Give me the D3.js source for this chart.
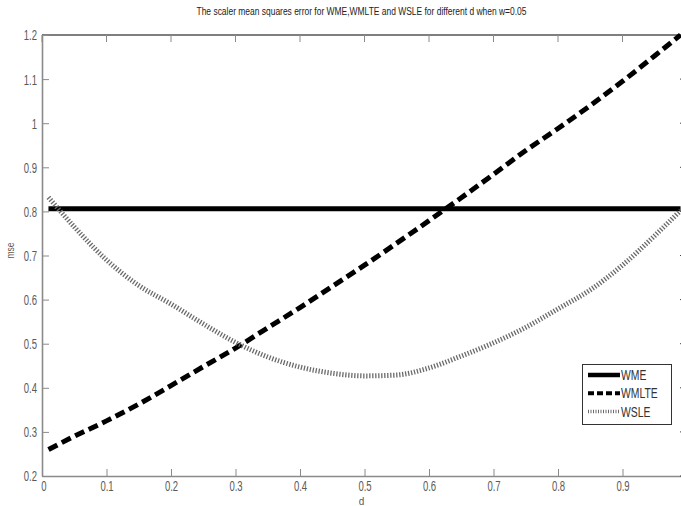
<!DOCTYPE html>
<html><head><meta charset="utf-8">
<script src="https://cdn.jsdelivr.net/npm/d3@7"></script>
<style>
body{margin:0;background:#fff;overflow:hidden}
text{font-family:"Liberation Sans",Arial,sans-serif}
</style>
</head><body><svg id="c" width="681" height="506"></svg>
<script>
const titleText = "The scaler mean squares error for WME,WMLTE and WSLE for different d when w=0.05";
const xLabel = "d";
const yLabel = "mse";
const dValues = [0.01,0.05,0.1,0.15,0.2,0.25,0.3,0.35,0.4,0.45,0.5,0.55,0.6,0.65,0.7,0.75,0.8,0.85,0.9,0.95,0.99];
const wme   = [0.806,0.806,0.806,0.806,0.806,0.806,0.806,0.806,0.806,0.806,0.806,0.806,0.806,0.806,0.806,0.806,0.806,0.806,0.806,0.806,0.806];
const wmlte = [0.26,0.29,0.325,0.363,0.405,0.448,0.49,0.536,0.582,0.63,0.678,0.728,0.779,0.831,0.884,0.938,0.988,1.04,1.095,1.153,1.2];
const wsle  = [0.832,0.765,0.69,0.632,0.59,0.545,0.503,0.47,0.447,0.433,0.427,0.429,0.445,0.472,0.502,0.537,0.579,0.622,0.678,0.745,0.802];
const seriesNames = ["WME","WMLTE","WSLE"];
const xTicks = [0,0.1,0.2,0.3,0.4,0.5,0.6,0.7,0.8,0.9];
const xTickLabels = ["0","0.1","0.2","0.3","0.4","0.5","0.6","0.7","0.8","0.9"];
const yTicks = [0.2,0.3,0.4,0.5,0.6,0.7,0.8,0.9,1,1.1,1.2];
const yTickLabels = ["0.2","0.3","0.4","0.5","0.6","0.7","0.8","0.9","1","1.1","1.2"];

const svg = d3.select("#c");
const L = 42, R = 687, T = 35, B = 476;
const x = d3.scaleLinear().domain([0,1]).range([L,R]);
const y = d3.scaleLinear().domain([0.2,1.2]).range([B,T]);
const axisGray = "#8a8a8a", labelGray = "#5a5a5a";

function narrow(sel, f){
  sel.each(function(){
    const len = this.getComputedTextLength();
    d3.select(this).attr("textLength", len*f).attr("lengthAdjust","spacingAndGlyphs");
  });
}

// frame top & right
svg.append("line").attr("x1",L).attr("x2",R).attr("y1",T).attr("y2",T).attr("stroke","#000").attr("stroke-width",1.2);
svg.append("line").attr("x1",R).attr("x2",R).attr("y1",T).attr("y2",B).attr("stroke","#000").attr("stroke-width",1.2);

function styleAxis(g, col){
  g.select(".domain").attr("stroke",col).attr("stroke-width",1.6);
  g.selectAll(".tick line").attr("stroke",col);
  g.selectAll(".tick text").attr("fill",labelGray).attr("font-size",14)
    .attr("font-family","Liberation Sans, Arial, sans-serif");
  narrow(g.selectAll(".tick text"), 0.68);
}
const gx = svg.append("g").attr("transform",`translate(0,${B})`)
  .call(d3.axisBottom(x).tickValues(xTicks).tickFormat((d,i)=>xTickLabels[i]).tickSizeInner(-7).tickSizeOuter(0).tickPadding(5));
styleAxis(gx, axisGray);
gx.selectAll(".tick text").filter((d,i)=>i===0).attr("dx","1.5");
const gy = svg.append("g").attr("transform",`translate(${L},0)`)
  .call(d3.axisLeft(y).tickValues(yTicks).tickFormat((d,i)=>yTickLabels[i]).tickSizeInner(-7).tickSizeOuter(0).tickPadding(5));
styleAxis(gy, axisGray);
gy.selectAll(".tick text").attr("dy","0.35em");
// top and right ticks
svg.append("g").selectAll("line").data(xTicks).join("line")
  .attr("x1",d=>x(d)).attr("x2",d=>x(d)).attr("y1",T).attr("y2",T+7).attr("stroke",axisGray);
svg.append("g").selectAll("line").data(yTicks).join("line")
  .attr("x1",R).attr("x2",R-7).attr("y1",d=>y(d)).attr("y2",d=>y(d)).attr("stroke","#444");

// title and labels
svg.append("text").attr("x",(L+R)/2-3).attr("y",15).attr("text-anchor","middle")
  .attr("font-size",10).attr("fill","#222").attr("textLength",330).attr("lengthAdjust","spacingAndGlyphs").text(titleText);
const xl = svg.append("text").attr("x",(L+R)/2-3).attr("y",505).attr("text-anchor","middle")
  .attr("font-size",10).attr("fill",labelGray).text(xLabel);
const yl = svg.append("text").attr("transform",`translate(14,${(T+B)/2-5}) rotate(-90)`).attr("text-anchor","middle")
  .attr("font-size",10).attr("fill",labelGray).text(yLabel);
narrow(yl, 0.85);

const styles = [
  {data:wme, stroke:"#000", width:5, dash:null, lw:4.5, ldash:null},
  {data:wmlte, stroke:"#000", width:5, dash:"10,5", lw:4, ldash:"6,3"},
  {data:wsle, stroke:"#6a6a6a", width:5, dash:"1.3,1.7", lw:3.5, ldash:"1,1.5"}
];
const line = d3.line().x((d,i)=>x(dValues[i])).y(d=>y(d)).curve(d3.curveMonotoneX);
styles.forEach(s=>{
  svg.append("path").attr("d",line(s.data)).attr("fill","none").attr("stroke",s.stroke)
    .attr("stroke-width",s.width).attr("stroke-dasharray",s.dash);
});

// legend
const lg = svg.append("g");
lg.append("rect").attr("x",582.5).attr("y",364.5).attr("width",89).attr("height",60)
  .attr("fill","#fff").attr("stroke","#333").attr("stroke-width",1);
seriesNames.forEach((n,i)=>{
  const yy = 375 + i*18.3;
  lg.append("line").attr("x1",588).attr("x2",620).attr("y1",yy).attr("y2",yy)
    .attr("stroke",styles[i].stroke).attr("stroke-width",styles[i].lw)
    .attr("stroke-dasharray",styles[i].ldash);
  const t = lg.append("text").attr("x",621).attr("y",yy).attr("dy","0.36em").attr("font-size",14)
    .attr("fill","#333").text(n);
  narrow(t, 0.74);
});
</script>
</body></html>
